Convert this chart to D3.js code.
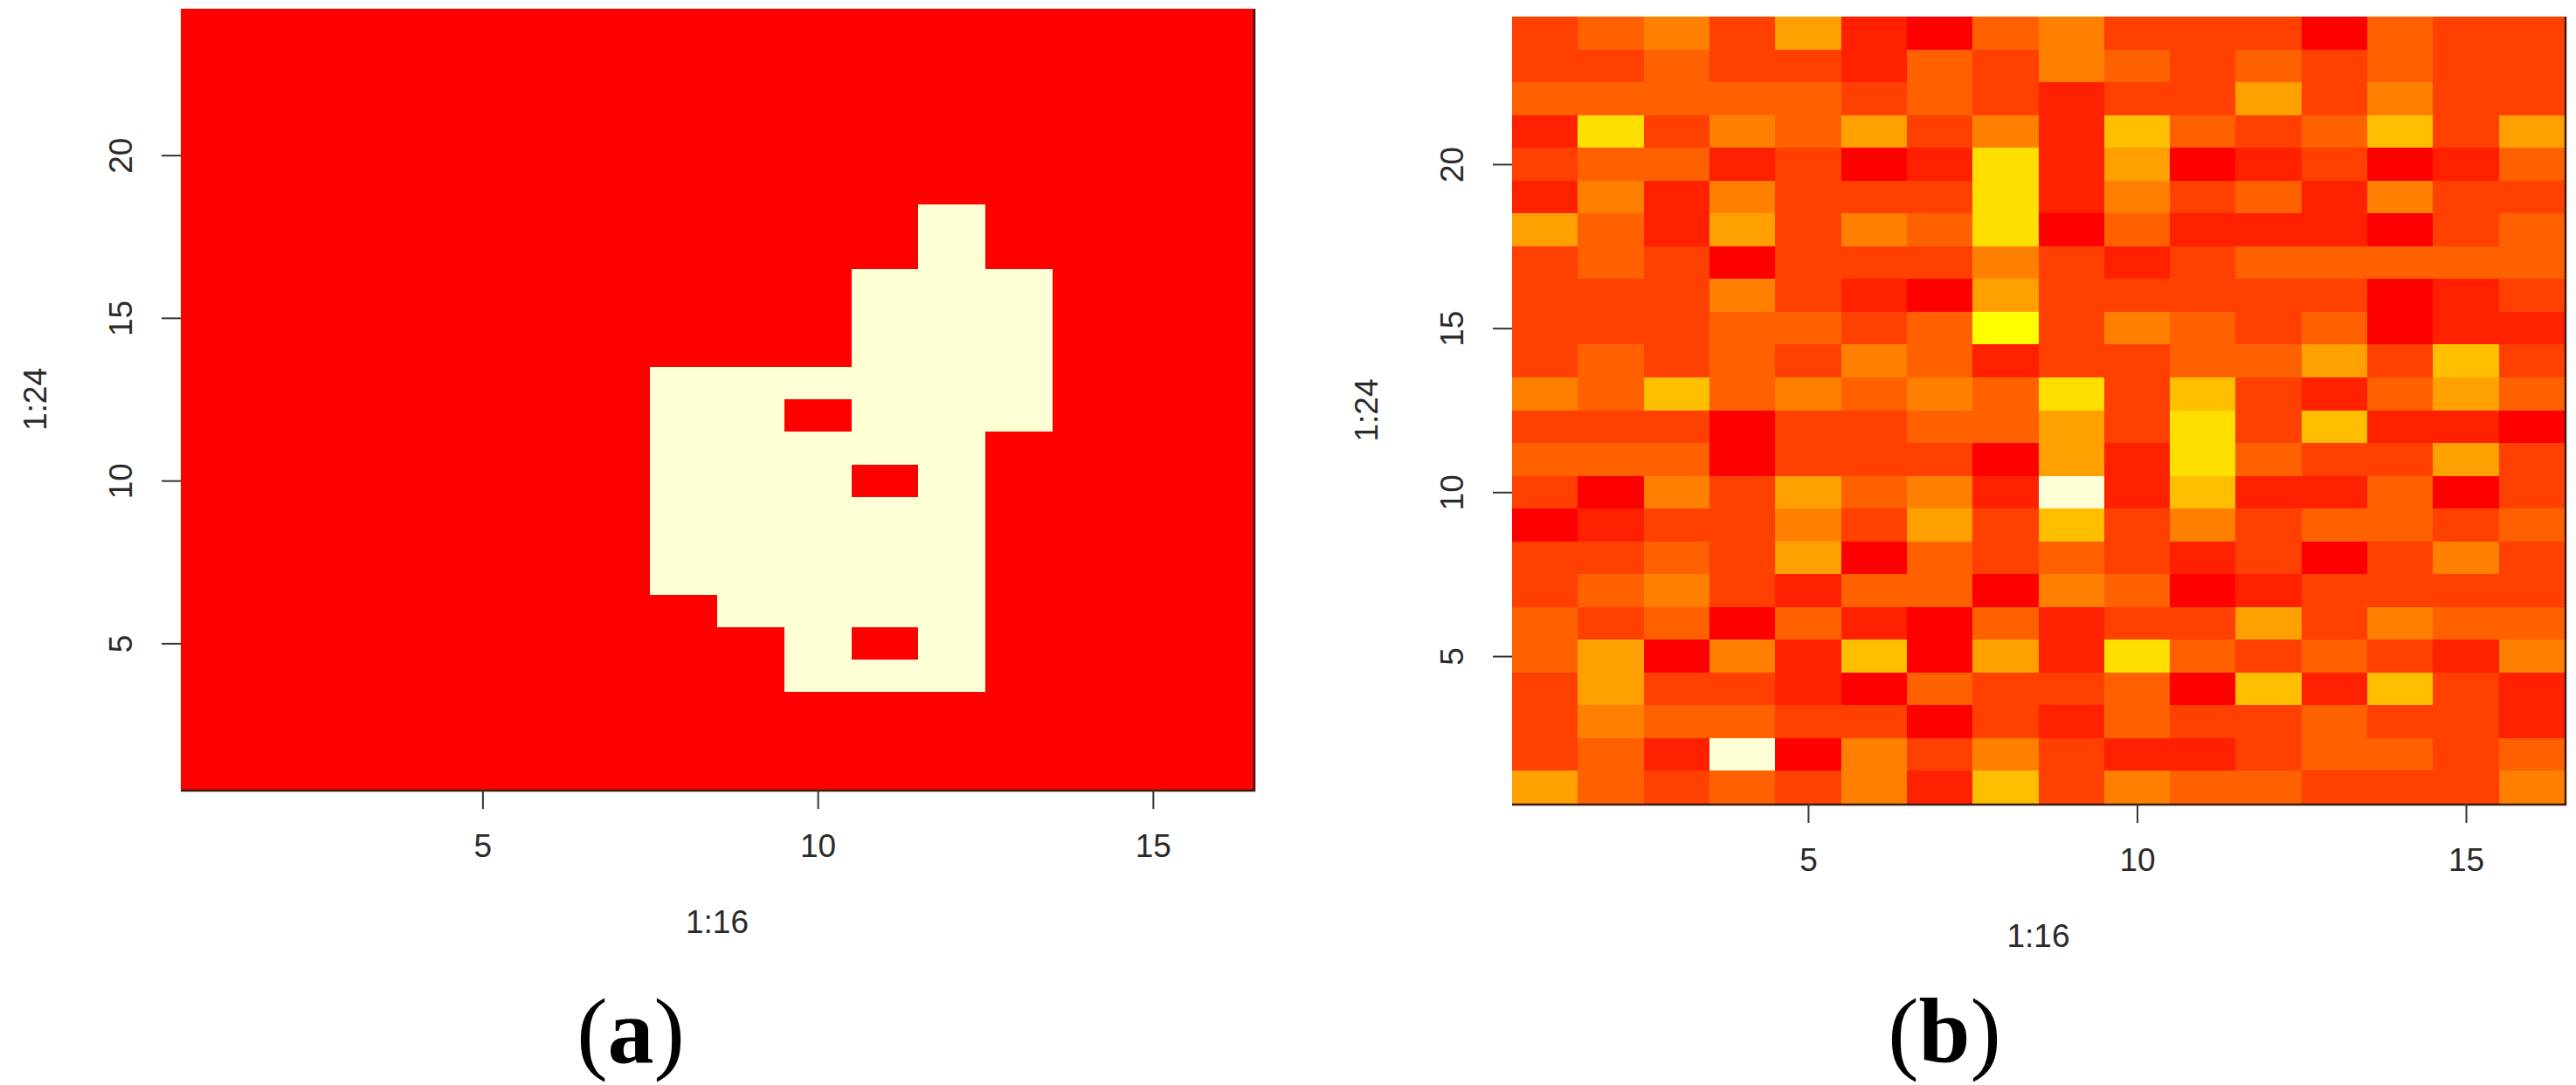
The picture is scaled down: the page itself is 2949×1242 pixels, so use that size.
<!DOCTYPE html>
<html>
<head>
<meta charset="utf-8">
<script src="https://cdn.jsdelivr.net/npm/d3@7"></script>
<style>
html,body{margin:0;padding:0;background:#ffffff;}
svg{display:block;}
</style>
</head>
<body>
<svg id="chart" width="2949" height="1242"></svg>
<script>
// ---------------- data ----------------
const nCols = 16;
const nRows = 24;
const xTicks = [5, 10, 15];
const yTicks = [5, 10, 15, 20];
const xTitle = "1:16";
const yTitle = "1:24";
const panelKeys = ["a", "b"];

// Panel (a): binary mask, rows listed from y = 24 (top) down to y = 1 (bottom), columns x = 1..16
const maskA = [
  [0,0,0,0,0,0,0,0,0,0,0,0,0,0,0,0], // 24
  [0,0,0,0,0,0,0,0,0,0,0,0,0,0,0,0], // 23
  [0,0,0,0,0,0,0,0,0,0,0,0,0,0,0,0], // 22
  [0,0,0,0,0,0,0,0,0,0,0,0,0,0,0,0], // 21
  [0,0,0,0,0,0,0,0,0,0,0,0,0,0,0,0], // 20
  [0,0,0,0,0,0,0,0,0,0,0,0,0,0,0,0], // 19
  [0,0,0,0,0,0,0,0,0,0,0,1,0,0,0,0], // 18
  [0,0,0,0,0,0,0,0,0,0,0,1,0,0,0,0], // 17
  [0,0,0,0,0,0,0,0,0,0,1,1,1,0,0,0], // 16
  [0,0,0,0,0,0,0,0,0,0,1,1,1,0,0,0], // 15
  [0,0,0,0,0,0,0,0,0,0,1,1,1,0,0,0], // 14
  [0,0,0,0,0,0,0,1,1,1,1,1,1,0,0,0], // 13
  [0,0,0,0,0,0,0,1,1,0,1,1,1,0,0,0], // 12
  [0,0,0,0,0,0,0,1,1,1,1,1,0,0,0,0], // 11
  [0,0,0,0,0,0,0,1,1,1,0,1,0,0,0,0], // 10
  [0,0,0,0,0,0,0,1,1,1,1,1,0,0,0,0], // 9
  [0,0,0,0,0,0,0,1,1,1,1,1,0,0,0,0], // 8
  [0,0,0,0,0,0,0,1,1,1,1,1,0,0,0,0], // 7
  [0,0,0,0,0,0,0,0,1,1,1,1,0,0,0,0], // 6
  [0,0,0,0,0,0,0,0,0,1,0,1,0,0,0,0], // 5
  [0,0,0,0,0,0,0,0,0,1,1,1,0,0,0,0], // 4
  [0,0,0,0,0,0,0,0,0,0,0,0,0,0,0,0], // 3
  [0,0,0,0,0,0,0,0,0,0,0,0,0,0,0,0], // 2
  [0,0,0,0,0,0,0,0,0,0,0,0,0,0,0,0]  // 1
];

// Panel (b): values (binned level 0..11), rows from y = 24 (top) to y = 1 (bottom)
const valuesB = [
  [2,3,4,2,5,1,0,3, 4,2,2,2,0,3,2,2], // 24
  [2,2,3,2,2,1,3,2, 4,3,2,3,2,3,2,2], // 23
  [3,3,3,3,3,2,3,2, 1,2,2,5,2,4,2,2], // 22
  [1,7,2,4,3,5,2,4, 1,6,3,2,3,6,2,5], // 21
  [2,3,3,1,2,0,1,7, 1,5,0,1,2,0,1,3], // 20
  [1,4,1,4,2,2,2,7, 1,4,2,3,1,4,2,2], // 19
  [5,3,1,5,2,4,3,7, 0,3,1,1,1,0,2,3], // 18
  [2,3,2,0,2,2,2,4, 2,1,2,3,3,3,3,3], // 17
  [2,2,2,4,2,1,0,5, 2,2,2,2,2,0,1,2], // 16
  [2,2,2,3,3,2,3,8, 2,4,3,2,3,0,1,1], // 15
  [2,3,2,3,2,4,3,1, 2,2,3,3,5,2,6,2], // 14
  [4,3,6,3,4,3,4,3, 7,2,6,2,1,3,5,3], // 13
  [2,2,2,0,2,2,3,3, 5,2,7,2,6,1,1,0], // 12
  [3,3,3,0,2,2,2,0, 5,1,7,3,2,2,5,2], // 11
  [2,0,4,2,5,3,4,1,11,1,6,1,1,3,0,2], // 10
  [0,1,2,2,4,2,5,2, 6,2,4,2,3,3,2,3], // 9
  [2,2,3,2,5,0,3,2, 3,2,1,2,0,2,4,2], // 8
  [2,3,4,2,1,3,3,0, 4,3,0,1,2,2,2,2], // 7
  [3,2,3,0,3,1,0,3, 1,2,2,5,2,4,3,3], // 6
  [3,5,0,4,1,6,0,5, 1,7,3,2,3,2,1,4], // 5
  [2,5,2,2,1,0,3,2, 2,3,0,6,1,6,2,1], // 4
  [2,4,3,3,2,2,0,2, 1,3,2,2,3,2,2,1], // 3
  [2,3,1,11,0,4,2,4,2,1,1,2,3,3,2,3], // 2
  [5,3,2,3,2,4,1,6, 2,4,3,3,2,2,2,4]  // 1
];

// R heat.colors(12) palette (style)
const heatColors = ["#FF0000","#FF2000","#FF4000","#FF6000","#FF8000","#FF9F00",
                    "#FFBF00","#FFDF00","#FFFF00","#FFFF2A","#FFFF80","#FFFFD5"];

// ---------------- layout ----------------
const panels = [
  {key: panelKeys[0], data: maskA,   left: 207,  right: 1435, top: 10, bottom: 904, labelX: 722},
  {key: panelKeys[1], data: valuesB, left: 1731, right: 2936, top: 19, bottom: 920, labelX: 2226}
];

const svg = d3.select("#chart");
svg.append("rect").attr("width", 2949).attr("height", 1242).attr("fill", "#ffffff");

const sansFont = "'Liberation Sans', Arial, 'DejaVu Sans', sans-serif";
const serifFont = "'Liberation Serif', 'Times New Roman', serif";

panels.forEach(p => {
  const x = d3.scaleLinear().domain([0.5, nCols + 0.5]).range([p.left, p.right]);
  const y = d3.scaleLinear().domain([0.5, nRows + 0.5]).range([p.bottom, p.top]);
  const flat = p.data.flat();
  const color = d3.scaleQuantize().domain(d3.extent(flat)).range(heatColors);

  const cells = [];
  p.data.forEach((row, i) => {
    const r = nRows - i;
    row.forEach((v, j) => cells.push({c: j + 1, r: r, v: v}));
  });

  const g = svg.append("g");

  g.append("g").selectAll("rect").data(cells).join("rect")
    .attr("x", d => x(d.c - 0.5))
    .attr("y", d => y(d.r + 0.5))
    .attr("width", d => x(d.c + 0.5) - x(d.c - 0.5))
    .attr("height", d => y(d.r - 0.5) - y(d.r + 0.5))
    .attr("fill", d => color(d.v))
    .attr("shape-rendering", "crispEdges");

  // partially visible frame (bottom & right)
  g.append("line").attr("x1", p.left).attr("x2", p.right + 2)
    .attr("y1", p.bottom + 1).attr("y2", p.bottom + 1)
    .attr("stroke", "#3a1c14").attr("stroke-width", 2.5);
  g.append("line").attr("x1", p.right + 1).attr("x2", p.right + 1)
    .attr("y1", p.top).attr("y2", p.bottom + 2)
    .attr("stroke", "#3a1c14").attr("stroke-width", 2.5);

  // x axis
  const gx = g.append("g").attr("transform", `translate(0,${p.bottom})`)
    .call(d3.axisBottom(x).tickValues(xTicks).tickSize(22).tickPadding(29).tickFormat(d3.format("d")));
  gx.select(".domain").remove();
  gx.selectAll(".tick line").attr("stroke", "#333").attr("stroke-width", 2);
  gx.selectAll(".tick text").attr("font-family", sansFont).attr("font-size", 37).attr("fill", "#2a2a2a");

  // y axis
  const gy = g.append("g").attr("transform", `translate(${p.left},0)`)
    .call(d3.axisLeft(y).tickValues(yTicks).tickSize(22).tickFormat(d3.format("d")));
  gy.select(".domain").remove();
  gy.selectAll(".tick line").attr("stroke", "#333").attr("stroke-width", 2);
  gy.selectAll(".tick text")
    .attr("x", null).attr("dy", null)
    .attr("transform", "translate(-56,0) rotate(-90)")
    .attr("text-anchor", "middle")
    .attr("font-family", sansFont).attr("font-size", 37).attr("fill", "#2a2a2a");

  // axis titles
  g.append("text")
    .attr("x", (p.left + p.right) / 2).attr("y", p.bottom + 164)
    .attr("text-anchor", "middle")
    .attr("font-family", sansFont).attr("font-size", 37).attr("fill", "#2a2a2a")
    .text(xTitle);
  g.append("text")
    .attr("transform", `translate(${p.left - 154},${(p.top + p.bottom) / 2}) rotate(-90)`)
    .attr("text-anchor", "middle")
    .attr("font-family", sansFont).attr("font-size", 37).attr("fill", "#2a2a2a")
    .text(yTitle);

  // panel label
  const lab = g.append("text")
    .attr("x", p.labelX).attr("y", 1216)
    .attr("text-anchor", "middle")
    .attr("font-family", serifFont).attr("font-size", 106).attr("fill", "#000");
  lab.append("tspan").text("(");
  lab.append("tspan").attr("font-weight", "bold").text(p.key);
  lab.append("tspan").text(")");
});
</script>
</body>
</html>
